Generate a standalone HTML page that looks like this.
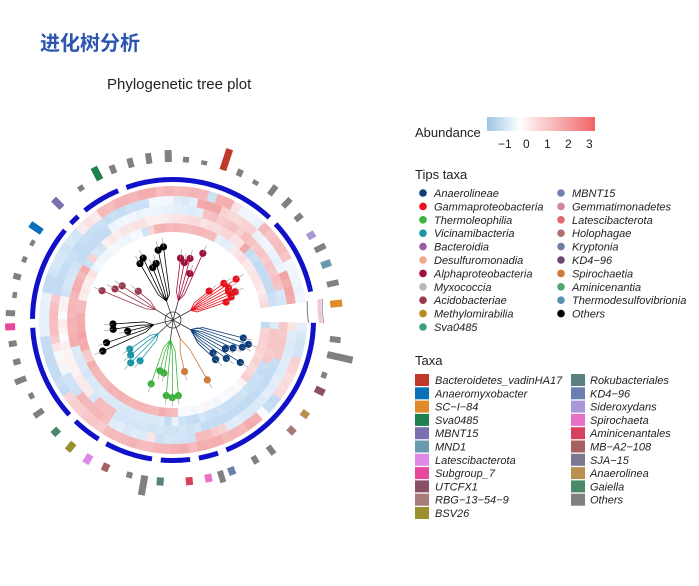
<!DOCTYPE html>
<html><head><meta charset="utf-8">
<style>
body{margin:0;background:#fff;width:699px;height:586px;overflow:hidden;position:relative;font-family:"Liberation Sans",sans-serif}
.t{position:absolute;white-space:nowrap}
</style></head><body>
<div class="t" style="left:40px;top:27px;font-size:20px;font-weight:bold;color:#2b55b0;font-family:'Liberation Sans','Noto Sans CJK SC',sans-serif">进化树分析</div>
<div class="t" style="left:107px;top:76px;font-size:15px;color:#222">Phylogenetic tree plot</div>
<svg id="s" width="699" height="586" style="position:absolute;left:0;top:0">
<defs><linearGradient id="g"><stop offset="0" stop-color="#9cc3e2"/><stop offset="0.3" stop-color="#fff"/><stop offset="1" stop-color="#f06466"/></linearGradient></defs>
<rect x="487" y="117" width="108" height="14" fill="url(#g)"/>
<g font-size="12" fill="#222" font-family="Liberation Sans"><text x="498" y="148">−1</text><text x="523" y="148">0</text><text x="544" y="148">1</text><text x="565" y="148">2</text><text x="586" y="148">3</text></g>
<text x="415" y="137" font-size="13" fill="#222">Abundance</text>
<text x="415" y="179" font-size="13" fill="#222">Tips taxa</text>
<text x="415" y="365" font-size="13" fill="#222">Taxa</text>
<g id="leg"></g><g id="plot"></g>
</svg>
<script>
const NS="http://www.w3.org/2000/svg";
function el(p,t,a,txt){const e=document.createElementNS(NS,t);for(const k in a)e.setAttribute(k,a[k]);if(txt)e.textContent=txt;p.appendChild(e);return e;}
const leg=document.getElementById('leg'),P=document.getElementById('plot');
const tips=[["Anaerolineae","#0d3f7a"],["Gammaproteobacteria","#e8101a"],["Thermoleophilia","#3cb43c"],["Vicinamibacteria","#1896a8"],["Bacteroidia","#9a5ca8"],["Desulfuromonadia","#f4a88a"],["Alphaproteobacteria","#a0103a"],["Myxococcia","#b8b8b8"],["Acidobacteriae","#9a3a50"],["Methylomirabilia","#b88a20"],["Sva0485","#3aa080"]];
const tips2=[["MBNT15","#7080b0"],["Gemmatimonadetes","#d08898"],["Latescibacterota","#e06a6a"],["Holophagae","#b07070"],["Kryptonia","#7080a0"],["KD4−96","#6a4a70"],["Spirochaetia","#d07a3a"],["Aminicenantia","#50a870"],["Thermodesulfovibrionia","#5a90b0"],["Others","#000"]];
tips.forEach((t,i)=>{const y=193+i*13.4;el(leg,'circle',{cx:423,cy:y,r:3.8,fill:t[1]});el(leg,'text',{x:434,y:y+4,'font-size':11,'font-style':'italic',fill:'#222'},t[0]);});
tips2.forEach((t,i)=>{const y=193+i*13.4;el(leg,'circle',{cx:561,cy:y,r:3.8,fill:t[1]});el(leg,'text',{x:572,y:y+4,'font-size':11,'font-style':'italic',fill:'#222'},t[0]);});
const tx=[["Bacteroidetes_vadinHA17","#c0392b"],["Anaeromyxobacter","#0a70b8"],["SC−I−84","#e08a2a"],["Sva0485","#208050"],["MBNT15","#7a70b0"],["MND1","#6a9ab0"],["Latescibacterota","#e088e8"],["Subgroup_7","#e8489a"],["UTCFX1","#8a5068"],["RBG−13−54−9","#a87a78"],["BSV26","#9a9030"]];
const tx2=[["Rokubacteriales","#5a8080"],["KD4−96","#6a80b0"],["Sideroxydans","#a898d8"],["Spirochaeta","#e870c8"],["Aminicenantales","#d84060"],["MB−A2−108","#a86060"],["SJA−15","#7a7890"],["Anaerolinea","#b89050"],["Gaiella","#4a8a6a"],["Others","#808080"]];
tx.forEach((t,i)=>{const y=380+i*13.3;el(leg,'rect',{x:415,y:y-6,width:14,height:12,fill:t[1]});el(leg,'text',{x:435,y:y+4,'font-size':11,'font-style':'italic',fill:'#222'},t[0]);});
tx2.forEach((t,i)=>{const y=380+i*13.3;el(leg,'rect',{x:571,y:y-6,width:14,height:12,fill:t[1]});el(leg,'text',{x:590,y:y+4,'font-size':11,'font-style':'italic',fill:'#222'},t[0]);});
const cx=173,cy=320;
let seed=7;function rnd(){seed=(seed*16807)%2147483647;return seed/2147483647;}
function pt(r,a){return [cx+r*Math.cos(a),cy+r*Math.sin(a)];}
function arc(r1,r2,a1,a2,fill){const [x1,y1]=pt(r2,a1),[x2,y2]=pt(r2,a2),[x3,y3]=pt(r1,a2),[x4,y4]=pt(r1,a1);
el(P,'path',{d:`M${x1},${y1}A${r2},${r2} 0 0 1 ${x2},${y2}L${x3},${y3}A${r1},${r1} 0 0 0 ${x4},${y4}Z`,fill});}
function col(v){if(v<0){const k=-v;return `rgb(${Math.round(250-k*55)},${Math.round(252-k*32)},${Math.round(255-k*12)})`;}return `rgb(${Math.round(252-v*10)},${Math.round(245-v*90)},${Math.round(245-v*88)})`;}
const a0=0.02,a1=2*Math.PI-0.14,N=90,da=(a1-a0)/N;
const rings=[[88,97],[97,106],[106,115],[115,124],[124,134]];
rings.forEach((rr,ri)=>{let v=rnd()*2-1;for(let i=0;i<N;i++){if(rnd()<0.22)v=rnd()*2-1.1;const vv=Math.max(-1,Math.min(1,v+(rnd()-0.5)*0.2));arc(rr[0],rr[1],a0+i*da,a0+(i+1)*da+0.005,col(vv));}});
// blue ring
for(let i=0;i<N;i++){if(rnd()<0.1)continue;arc(138,143,a0+i*da,a0+(i+1)*da+0.005,'#1010c8');}
arc(135,136,a0,a1-0.001,'#777');arc(146,150,a0,a1-0.001,'#f0c8d8');arc(150.5,151,a0,a1-0.001,'#555');
// outer markers
const colored=[[-1.25,"#c0392b",22],[-2.05,"#208050",14],[-2.35,"#7a70b0",12],[-2.55,"#0a70b8",14],[-0.55,"#a898d8",8],[-0.35,"#6a9ab0",10],[-0.1,"#e08a2a",12],[0.22,"#808080",26],[0.45,"#8a5068",10],[0.62,"#b89050",8],[0.75,"#a87a78",8],[1.2,"#6a80b0",8],[1.35,"#e870c8",8],[1.47,"#d84060",8],[1.65,"#5a8080",8],[1.75,"#808080",20],[2.0,"#a86060",8],[2.12,"#e088e8",10],[2.25,"#9a9030",10],[2.38,"#4a8a6a",8],[3.1,"#e8489a",10],[-1.6,"#808080",12]];
for(let a=-3.1;a<3.14;a+=0.115){if(colored.some(c=>Math.abs(c[0]-a)<0.07)||Math.abs(a)<0.05)continue;const L=4+rnd()*8;const [x,y]=pt(158+L/2,a);el(P,'rect',{x:x-L/2,y:y-3,width:L,height:6,fill:'#808080',transform:`rotate(${a*180/Math.PI} ${x} ${y})`});}
colored.forEach(c=>{const a=c[0],L=c[2];const [x,y]=pt(158+L/2,a);el(P,'rect',{x:x-L/2,y:y-3.5,width:L,height:7,fill:c[1],transform:`rotate(${a*180/Math.PI} ${x} ${y})`});});
// tree
const groups=[[-0.5,0.35,"#e8101a",8],[-1.3,0.3,"#a0103a",5],[-1.9,0.4,"#000",6],[-2.6,0.3,"#9a3a50",4],[2.9,0.35,"#000",5],[2.4,0.3,"#1896a8",4],[1.7,0.4,"#3cb43c",6],[0.5,0.5,"#0d3f7a",9],[1.2,0.3,"#d07a3a",2]];
el(P,'circle',{cx,cy,r:8,fill:'none',stroke:'#333','stroke-width':0.8});
groups.forEach(g=>{const [ga,w,c,n]=g;const [bx,by]=pt(20,ga);el(P,'line',{x1:cx,y1:cy,x2:bx,y2:by,stroke:'#333','stroke-width':0.8});
for(let k=0;k<n;k++){const a=ga-w/2+w*k/Math.max(1,n-1);const r=45+rnd()*35;const [mx,my]=pt(25+rnd()*10,a);const [ex,ey]=pt(r,a);
el(P,'polyline',{points:`${bx},${by} ${mx},${my} ${ex},${ey}`,fill:'none',stroke:c,'stroke-width':0.8});
el(P,'circle',{cx:ex,cy:ey,r:3.6,fill:c});const [lx,ly]=pt(r+9,a);el(P,'line',{x1:ex,y1:ey,x2:lx,y2:ly,stroke:'#999','stroke-width':0.6});}});
</script>
</body></html>
